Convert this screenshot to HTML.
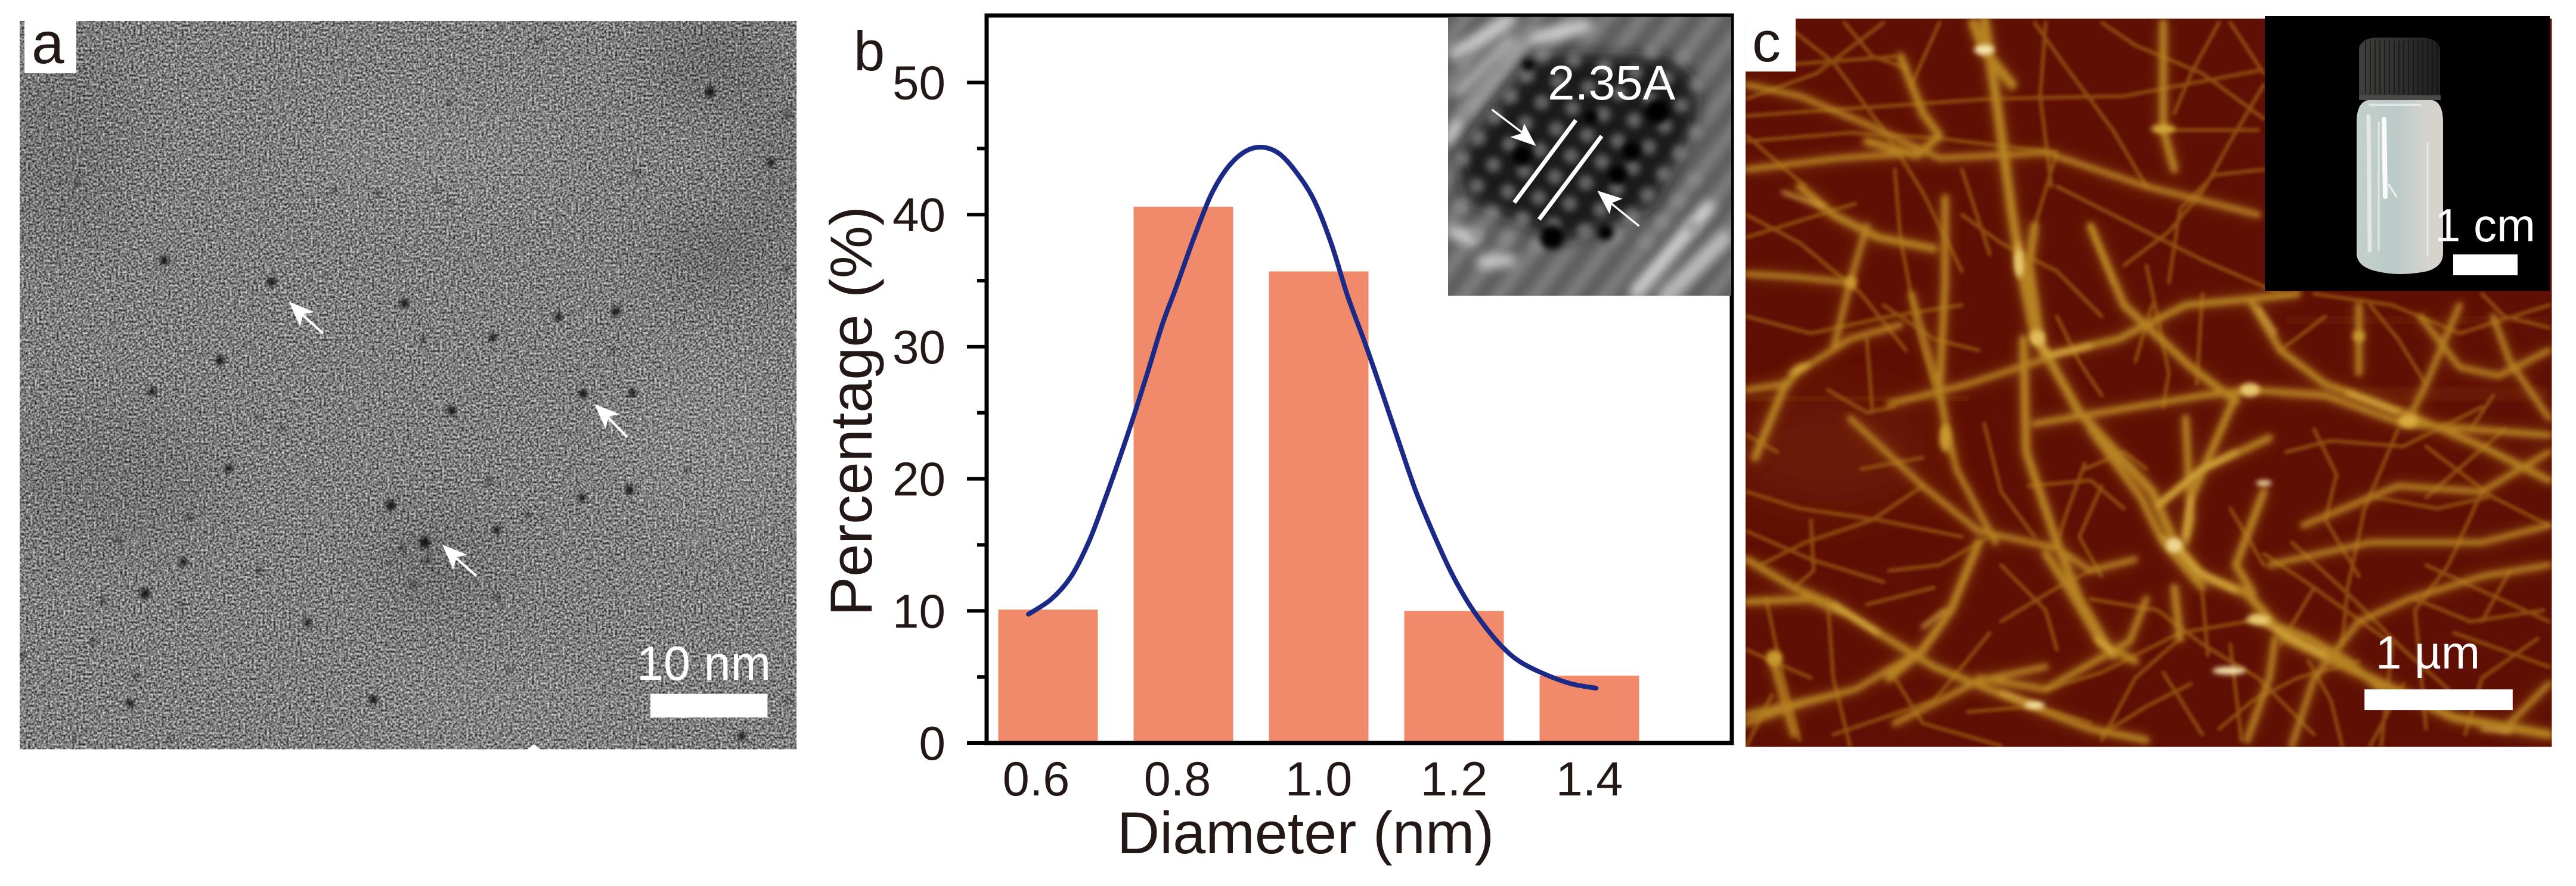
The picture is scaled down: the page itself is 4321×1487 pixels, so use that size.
<!DOCTYPE html>
<html lang="en">
<head>
<meta charset="utf-8">
<title>Nanoparticle and nanofibre characterisation figure</title>
<style>
  html, body { margin: 0; padding: 0; background: #ffffff; }
  body { width: 4321px; height: 1487px; overflow: hidden; }
  svg { display: block; }
  text { font-family: "Liberation Sans", Arial, sans-serif; }
</style>
</head>
<body>
<svg id="figure" xmlns="http://www.w3.org/2000/svg" width="4321" height="1487" viewBox="0 0 4321 1487">
  <defs>
    <filter id="temNoise" x="0" y="0" width="100%" height="100%" color-interpolation-filters="sRGB">
      <feTurbulence type="fractalNoise" baseFrequency="0.25" numOctaves="2" seed="11" result="n"/>
      <feColorMatrix in="n" type="matrix" values="1.15 0 0 0 -0.08  1.15 0 0 0 -0.08  1.15 0 0 0 -0.08  0 0 0 0 1"/>
    </filter>
    <filter id="blur60" x="-100%" y="-100%" width="300%" height="300%"><feGaussianBlur stdDeviation="55"/></filter>
    <filter id="blur3" x="-50%" y="-50%" width="200%" height="200%"><feGaussianBlur stdDeviation="3.4"/></filter>
    <filter id="blurHaze" x="-10%" y="-10%" width="120%" height="120%"><feGaussianBlur stdDeviation="12"/></filter>
    <filter id="blurFib" x="-5%" y="-5%" width="110%" height="110%"><feGaussianBlur stdDeviation="5"/></filter>
    <filter id="blurFibS" x="-5%" y="-5%" width="110%" height="110%"><feGaussianBlur stdDeviation="3.2"/></filter>
    <filter id="blurSpot" x="-60%" y="-60%" width="220%" height="220%"><feGaussianBlur stdDeviation="4.5"/></filter>
    <filter id="blurInset" x="-20%" y="-20%" width="140%" height="140%"><feGaussianBlur stdDeviation="40"/></filter>
    <filter id="blurStripes" x="-20%" y="-20%" width="140%" height="140%"><feGaussianBlur stdDeviation="27"/></filter>
    <filter id="blurDots" x="-5%" y="-5%" width="110%" height="110%"><feGaussianBlur stdDeviation="17"/></filter>
    <clipPath id="clipA"><rect x="36" y="37" width="1419" height="1289"/></clipPath>
    <clipPath id="clipC"><rect x="83" y="33" width="1442" height="1289"/></clipPath>
    <clipPath id="clipInset"><rect x="207" y="85" width="1425" height="1405"/></clipPath>
    <linearGradient id="bodyGrad" x1="0" x2="1" y1="0" y2="0">
      <stop offset="0" stop-color="#c3cfca"/><stop offset="0.45" stop-color="#bccac8"/><stop offset="0.8" stop-color="#d3d3cd"/><stop offset="1" stop-color="#d8d2cc"/>
    </linearGradient>
    <linearGradient id="capGrad" x1="0" x2="1" y1="0" y2="0">
      <stop offset="0" stop-color="#3f3f3c"/><stop offset="0.6" stop-color="#2c2c2c"/><stop offset="1" stop-color="#1f1f1f"/>
    </linearGradient>
  </defs>

  <rect width="4321" height="1487" fill="#ffffff"/>

  <!-- PANEL A: TEM micrograph -->
  <g transform="scale(0.9183 0.9483)">
    <g clip-path="url(#clipA)">
      <rect x="36" y="37" width="1419" height="1289" fill="#858585"/>
      <rect x="36" y="37" width="1419" height="1289" filter="url(#temNoise)"/>
      <g>
        <ellipse cx="1300" cy="110" rx="120" ry="70" fill="#000" opacity=".16" filter="url(#blur60)"/>
        <ellipse cx="1300" cy="450" rx="100" ry="50" fill="#000" opacity=".2" filter="url(#blur60)"/>
        <ellipse cx="800" cy="1000" rx="110" ry="80" fill="#000" opacity=".12" filter="url(#blur60)"/>
        <ellipse cx="1430" cy="300" rx="50" ry="150" fill="#000" opacity=".14" filter="url(#blur60)"/>
        <ellipse cx="200" cy="850" rx="200" ry="120" fill="#000" opacity=".08" filter="url(#blur60)"/>
        <ellipse cx="120" cy="250" rx="120" ry="200" fill="#000" opacity=".08" filter="url(#blur60)"/>
        <ellipse cx="800" cy="270" rx="260" ry="90" fill="#fff" opacity=".05" filter="url(#blur60)"/>
        <ellipse cx="1300" cy="780" rx="170" ry="150" fill="#fff" opacity=".05" filter="url(#blur60)"/>
        <ellipse cx="900" cy="1250" rx="260" ry="60" fill="#fff" opacity=".05" filter="url(#blur60)"/>
      </g>
      <g id="temDots" fill="#0c0c0c" filter="url(#blur3)"></g>
      <polygon points="962,1327 975,1317 988,1327" fill="#ffffff"/>
      <g fill="#fff" stroke="none">
        <line x1="590" y1="590" x2="550" y2="555" stroke="#fff" stroke-width="4.5"/>
        <polygon points="528,534 574,552 554,556 548,578"/>
      </g>
      <g fill="#fff" stroke="none">
        <line x1="1146" y1="774" x2="1108" y2="736" stroke="#fff" stroke-width="4.5"/>
        <polygon points="1086,715 1132,733 1112,737 1106,759"/>
      </g>
      <g fill="#fff" stroke="none">
        <line x1="870" y1="1019" x2="830" y2="985" stroke="#fff" stroke-width="4.5"/>
        <polygon points="808,964 854,982 834,986 828,1008"/>
      </g>
      <rect x="1188" y="1228" width="214" height="42" fill="#ffffff"/>
    </g>
  </g>
  <rect x="41" y="35" width="87" height="88" fill="#ffffff"/>
  <text x="53" y="106" font-size="98" fill="#231815">a</text>
  <text x="1068" y="1141" font-size="81" fill="#ffffff">10 nm</text>

  <!-- PANEL B: histogram -->
  <text x="1432" y="118" font-size="94" fill="#231815">b</text>
  <g id="chartB"></g>

  <!-- Panel B inset: HRTEM -->
  <g transform="translate(2360 0) scale(0.33333)">
    <g clip-path="url(#clipInset)">
      <rect x="207" y="85" width="1425" height="1405" fill="#5c5c5c"/>
      <g id="hrtemStripes" filter="url(#blurStripes)" stroke="#b8b8b8" stroke-width="62" opacity=".42"></g>
      <g filter="url(#blurStripes)" stroke="#dcdcdc" fill="none" stroke-linecap="round" opacity=".9">
        <line x1="240" y1="270" x2="520" y2="100" stroke-width="65"/>
        <line x1="260" y1="460" x2="520" y2="200" stroke-width="55" stroke="#bcbcbc"/>
        <line x1="310" y1="570" x2="600" y2="220" stroke-width="50" stroke="#b4b4b4"/>
        <line x1="650" y1="190" x2="900" y2="130" stroke-width="70"/>
        <line x1="210" y1="710" x2="260" y2="620" stroke-width="45" stroke="#eee"/>
        <line x1="240" y1="1170" x2="330" y2="1200" stroke-width="70"/>
        <line x1="380" y1="1320" x2="520" y2="1310" stroke-width="60"/>
        <line x1="1150" y1="1470" x2="1520" y2="1040" stroke-width="60" stroke="#e6e6e6"/>
        <line x1="1300" y1="1490" x2="1600" y2="1200" stroke-width="80" stroke="#c5c5c5"/>
      </g>
      <g filter="url(#blurInset)" opacity=".92">
        <polygon points="430,550 630,300 820,270 1330,290 1460,420 1450,640 1240,1040 800,1220 620,1140 300,1010 260,780" fill="#141414"/>
      </g>
      <g id="latticeDots" filter="url(#blurDots)"></g>
      <g filter="url(#blurDots)" fill="#000">
        <circle cx="580" cy="785" r="48"/><circle cx="610" cy="325" r="30"/><circle cx="925" cy="590" r="32"/><circle cx="730" cy="1195" r="60"/><circle cx="1260" cy="560" r="60"/><circle cx="1060" cy="880" r="45"/><circle cx="1130" cy="760" r="45"/><circle cx="1000" cy="1170" r="40"/>
      </g>
      <g stroke="#ffffff" stroke-width="21">
        <line x1="850" y1="605" x2="540" y2="1020"/>
        <line x1="980" y1="685" x2="665" y2="1105"/>
      </g>
      <g fill="#fff">
        <line x1="428" y1="552" x2="590" y2="675" stroke="#fff" stroke-width="10"/>
        <polygon points="650,735 590,622 575,672 520,690"/>
      </g>
      <g fill="#fff">
        <line x1="1168" y1="1138" x2="1020" y2="1018" stroke="#fff" stroke-width="10"/>
        <polygon points="958,960 1085,1000 1032,1022 1020,1078"/>
      </g>
    </g>
  </g>
  <text x="2596" y="167" font-size="82" fill="#ffffff">2.35A</text>

  <!-- PANEL C: AFM image -->
  <g transform="translate(2850 0) scale(0.938 0.9483)">
    <g clip-path="url(#clipC)">
      <rect x="83" y="33" width="1442" height="1289" fill="#5f0f04"/>
      <g fill="#7a2a08">
        <ellipse cx="230" cy="800" rx="190" ry="90" opacity=".5" filter="url(#blur60)"/>
        <rect x="1040" y="685" width="480" height="24" opacity=".4" filter="url(#blur3)"/>
        <rect x="83" y="700" width="400" height="10" opacity=".4"/>
        <rect x="1050" y="560" width="470" height="14" opacity=".25"/>
      </g>
      <use href="#afmMain" filter="url(#blurHaze)" opacity=".6"/>
      <g id="afmFine" filter="url(#blurFibS)" fill="none" stroke="#a06418" stroke-width="6.5" stroke-linecap="round" stroke-linejoin="round" opacity=".75">
        <path d="M85 205 L300 190 L520 175 L760 170 L1000 125"/>
        <path d="M85 250 L270 235 L430 245 L640 270"/>
        <path d="M150 40 L240 110 L330 230 L400 340 L470 480"/>
        <path d="M260 40 L310 100 L370 120"/>
        <path d="M600 40 L650 110 L740 230 L800 330"/>
        <path d="M720 40 L780 80 L900 130 L1010 210"/>
        <path d="M930 40 L880 130 L850 200"/>
        <path d="M1010 150 L950 250 L900 340 L840 410 L760 470"/>
        <path d="M640 330 L760 390 L900 460 L1040 520"/>
        <path d="M85 380 L180 430 L290 520 L370 620"/>
        <path d="M350 300 L360 420 L390 580 L420 680"/>
        <path d="M85 560 L200 590 L340 560 L470 540"/>
        <path d="M300 600 L310 730"/>
        <path d="M470 380 L540 430 L640 480 L720 560"/>
        <path d="M640 560 L680 640 L720 700"/>
        <path d="M800 470 L820 560 L840 660 L830 720"/>
        <path d="M1100 520 L1240 540 L1360 590 L1520 540"/>
        <path d="M1200 540 L1250 600 L1300 680"/>
        <path d="M1400 520 L1440 560 L1520 580"/>
        <path d="M1040 620 L1120 560"/>
        <path d="M85 870 L180 900 L320 920 L470 950"/>
        <path d="M85 940 L200 990 L330 1030"/>
        <path d="M200 920 L205 1010 L170 1040"/>
        <path d="M340 1010 L430 1000 L520 950"/>
        <path d="M230 1060 L240 1200 L270 1320"/>
        <path d="M120 1060 L150 1200 L180 1310"/>
        <path d="M300 1070 L420 1040"/>
        <path d="M400 860 L310 920 L190 960 L110 1000"/>
        <path d="M690 820 L660 900 L640 960"/>
        <path d="M690 830 L760 800 L800 830"/>
        <path d="M1100 760 L1140 840 L1120 920 L1180 1020"/>
        <path d="M1250 760 L1190 900 L1160 1040 L1150 1140"/>
        <path d="M1400 870 L1340 1000 L1280 1080 L1290 1180 L1300 1290"/>
        <path d="M1510 1080 L1380 1100 L1280 1060"/>
        <path d="M1500 1130 L1400 1200 L1370 1300"/>
        <path d="M1060 960 L1170 1060 L1260 1150 L1340 1220"/>
        <path d="M1300 790 L1420 880 L1520 930"/>
        <path d="M1210 880 L1320 900 L1410 880"/>
        <path d="M700 1060 L820 1080 L900 1140 L1000 1200 L1100 1300"/>
        <path d="M860 1130 L780 1200 L720 1310"/>
        <path d="M880 1210 L800 1250 L720 1300"/>
        <path d="M350 1200 L400 1280 L540 1320"/>
        <path d="M480 1260 L600 1250 L700 1280"/>
        <path d="M620 1220 L720 1190 L860 1120 L980 1100"/>
        <path d="M540 1100 L640 1040 L700 1010"/>
        <path d="M1010 980 L1100 1040 L1040 1140"/>
        <path d="M590 860 L700 850 L760 900"/>
        <path d="M1450 1010 L1400 1100"/>
        <path d="M930 1290 L990 1240 L1070 1200 L1180 1170"/>
        <path d="M1150 1320 L1130 1240 L1090 1170"/>
        <path d="M85 120 L350 100"/>
        <path d="M85 175 L210 130 L330 40"/>
        <path d="M430 40 L380 150"/>
        <path d="M620 40 L610 170 L630 330"/>
        <path d="M950 40 L1010 130"/>
        <path d="M1000 230 L900 230 L820 230"/>
        <path d="M1010 300 L920 310 L860 370 L840 500"/>
        <path d="M640 270 L600 400"/>
        <path d="M700 400 L740 500"/>
        <path d="M85 240 L190 330"/>
        <path d="M85 420 L280 360"/>
        <path d="M470 300 L520 450"/>
        <path d="M330 540 L420 600 L500 620"/>
        <path d="M230 690 L300 730 L350 720"/>
        <path d="M85 770 L140 800"/>
        <path d="M290 830 L400 810"/>
        <path d="M510 750 L540 870 L600 950"/>
        <path d="M720 860 L680 950 L720 1020"/>
        <path d="M900 520 L890 680"/>
        <path d="M810 540 L780 640"/>
        <path d="M1130 780 L1260 790 L1400 720"/>
        <path d="M1050 800 L1130 780"/>
        <path d="M1010 1000 L950 900"/>
        <path d="M1300 1000 L1520 1100"/>
        <path d="M1100 1040 L1240 1140 L1220 1320"/>
        <path d="M1350 1120 L1520 1180"/>
        <path d="M1300 880 L1440 760"/>
        <path d="M1380 760 L1420 700"/>
        <path d="M830 1190 L900 1300"/>
        <path d="M540 1000 L620 1080 L640 1150"/>
        <path d="M420 1240 L520 1120"/>
        <path d="M85 1150 L200 1200"/>
        <path d="M85 1320 L130 1230"/>
        <path d="M240 1300 L420 1240"/>
        <path d="M1260 1210 L1200 1320"/>
        <path d="M900 1050 L910 1160"/>
        <path d="M950 1140 L970 1310"/>
      </g>
      <g id="afmMain" filter="url(#blurFib)" fill="none" stroke="#b68224" stroke-width="10" stroke-linecap="round" stroke-linejoin="round">
        <path d="M510 35 L535 200 L560 380 L575 470 L600 590 L620 630" stroke-width="16"/>
        <path d="M490 40 L510 90 L560 150" stroke-width="16"/>
        <path d="M360 100 L400 200 L430 240 L390 275 L300 250" stroke-width="13"/>
        <path d="M85 150 L180 170 L300 220 L430 280 L620 270 L800 330 L1000 380"/>
        <path d="M830 40 L830 230 L850 300" stroke-width="13"/>
        <path d="M85 485 L170 490 L270 500"/>
        <path d="M180 330 L240 380 L320 420 L420 440" stroke-width="13"/>
        <path d="M85 690 L150 680 L190 650 L270 600 L360 575"/>
        <path d="M100 810 L150 690 L180 650" stroke-width="13"/>
        <path d="M620 630 L750 600 L870 540 L980 530 L1070 520" stroke-width="12"/>
        <path d="M340 715 L480 680 L620 635"/>
        <path d="M600 590 L680 730 L810 870 L850 960 L900 1020 L980 1050 L1050 1130 L1200 1200 L1350 1270 L1520 1300" stroke-width="15"/>
        <path d="M700 400 L760 540 L880 650 L960 710" stroke-width="13"/>
        <path d="M985 530 L1040 620 L1120 680 L1260 730 L1400 790 L1520 850" stroke-width="12"/>
        <path d="M580 600 L585 800 L640 960 L680 1060 L740 1160" stroke-width="14"/>
        <path d="M85 990 L170 1040 L240 1070 L320 1120 L420 1180 L580 1245 L700 1290 L800 1310" stroke-width="12"/>
        <path d="M85 1065 L200 1060 L260 1085" stroke-width="12"/>
        <path d="M500 960 L450 1080 L400 1150 L340 1200" stroke-width="14"/>
        <path d="M270 740 L400 860 L500 940 L640 970 L700 1010 L780 990"/>
        <path d="M820 895 L900 830 L1020 775" stroke-width="12"/>
        <path d="M600 750 L750 725 L900 700 L985 690" stroke-width="11"/>
        <path d="M985 690 L1120 700 L1260 750 L1520 770" stroke-width="11"/>
        <path d="M1265 750 L1300 680 L1330 610 L1360 540"/>
        <path d="M1420 560 L1450 640 L1520 740"/>
        <path d="M1520 620 L1430 665 L1360 650 L1290 560"/>
        <path d="M1020 1000 L1200 960 L1400 960 L1520 930"/>
        <path d="M1080 930 L1250 860 L1400 870 L1520 800"/>
        <path d="M1520 1210 L1440 1290"/>
        <path d="M1000 1095 L1090 1130 L1160 1170 L1220 1220" stroke-width="13"/>
        <path d="M870 740 L880 920 L870 960" stroke-width="12"/>
        <path d="M960 700 L920 790 L880 880 L870 950" stroke-width="13"/>
        <path d="M130 1160 L170 1300" stroke-width="12"/>
        <path d="M280 1220 L170 1250 L85 1280"/>
        <path d="M500 1200 L620 1220 L770 1135 L800 1060" stroke-width="11"/>
        <path d="M620 980 L660 1040 L720 1140 L780 1170" stroke-width="13"/>
        <path d="M850 1040 L860 1130" stroke-width="13"/>
        <path d="M85 300 L250 280 L400 270"/>
        <path d="M380 520 L430 700 L460 830 L530 960"/>
        <path d="M300 400 L270 500 L240 620"/>
        <path d="M440 350 L440 500 L430 690 L450 800" stroke-width="12"/>
        <path d="M1010 870 L960 1000 L990 1050" stroke-width="13"/>
        <path d="M1180 540 L1180 660" stroke-width="11"/>
        <path d="M1060 1320 L1100 1200 L1180 1100 L1270 1060 L1400 1020 L1520 1000"/>
        <path d="M980 1310 L1020 1200 L1030 1130" stroke-width="11"/>
        <path d="M700 760 L790 880 L830 960 L900 1040" stroke-width="12"/>
        <path d="M600 400 L590 470 L610 600" stroke-width="14"/>
        <path d="M85 1265 L280 1220 L400 1150"/>
        <path d="M350 1280 L500 1205 L620 1180"/>
      </g>
      <g filter="url(#blurFib)" fill="none" stroke="#e0b548" stroke-width="6" stroke-linecap="round" stroke-linejoin="round">
        <path d="M570 430 L575 490"/>
        <path d="M600 590 L625 630 L700 612"/>
        <path d="M820 895 L900 830 L960 800"/>
        <path d="M830 950 L860 975 L890 1010 L960 1045"/>
        <path d="M990 1090 L1060 1130 L1120 1160"/>
        <path d="M240 1070 L320 1120"/>
        <path d="M540 1225 L610 1250"/>
        <path d="M150 340 L220 365"/>
        <path d="M1160 695 L1250 730"/>
        <path d="M165 660 L195 645"/>
        <path d="M1000 545 L1030 590"/>
        <path d="M880 880 L870 950"/>
        <path d="M1400 1290 L1450 1295"/>
        <path d="M400 1110 L440 1080"/>
        <path d="M710 1130 L740 1155"/>
      </g>
      <g filter="url(#blurSpot)" fill="#f5e4ad">
        <ellipse cx="510" cy="88" rx="18" ry="9"/>
        <ellipse cx="985" cy="690" rx="18" ry="12" fill="#e7c870"/>
        <ellipse cx="850" cy="965" rx="15" ry="13" fill="#ecd68f"/>
        <ellipse cx="600" cy="1248" rx="18" ry="6"/>
        <ellipse cx="572" cy="465" rx="8" ry="24" fill="#e7c870"/>
        <ellipse cx="1268" cy="745" rx="18" ry="12" fill="#d9ab3f"/>
        <ellipse cx="948" cy="1187" rx="30" ry="7"/>
        <ellipse cx="1010" cy="855" rx="14" ry="5"/>
        <ellipse cx="1180" cy="595" rx="11" ry="10" fill="#c99a2e"/>
        <ellipse cx="830" cy="228" rx="22" ry="8" fill="#d2a43a"/>
        <ellipse cx="1000" cy="1097" rx="22" ry="9" fill="#e7c870"/>
        <ellipse cx="605" cy="598" rx="14" ry="14" fill="#e0bb5c"/>
        <ellipse cx="272" cy="500" rx="10" ry="12" fill="#c99a2e"/>
        <ellipse cx="135" cy="1165" rx="14" ry="14" fill="#c99a2e"/>
        <ellipse cx="440" cy="775" rx="10" ry="24" fill="#c99a2e"/>
      </g>
      <rect x="1190" y="1220" width="265" height="37" fill="#ffffff"/>
    </g>
  </g>
  <rect x="2928" y="31" width="84" height="89" fill="#ffffff"/>
  <text x="2939" y="103" font-size="96" fill="#231815">c</text>
  <text x="3985" y="1122" font-size="78" fill="#ffffff">1 µm</text>

  <!-- Panel C inset: vial photo -->
  <g>
    <rect x="3799" y="27" width="478" height="461" fill="#000000"/>
    <g>
      <path d="M3972 168 L4080 168 Q4098 172 4098 205 L4098 425 Q4098 447 4072 455 Q4026 465 3985 455 Q3953 447 3953 425 L3953 205 Q3953 172 3972 168 Z" fill="url(#bodyGrad)"/>
      <g fill="none" stroke="#ffffff" stroke-linecap="round">
        <path d="M3973 195 L3975 420" stroke-width="7" opacity=".55"/>
        <path d="M3999 200 L4001 330" stroke-width="8" opacity=".9"/>
        <path d="M3990 205 L3990 420" stroke-width="3" opacity=".5"/>
        <path d="M4007 310 L4020 330" stroke-width="3" opacity=".7"/>
        <path d="M4072 240 L4072 430" stroke-width="3" opacity=".45"/>
        <path d="M3975 176 L4060 176" stroke-width="4" opacity=".5"/>
      </g>
      <path d="M3957 160 L4094 160 L4094 168 L3957 168 Z" fill="#4a4a48"/>
      <path d="M3957 80 Q3962 63 3990 63 L4065 63 Q4090 66 4093 82 L4093 160 L3957 160 Z" fill="url(#capGrad)"/>
      <g id="capRidges" stroke="#111" stroke-width="2" opacity=".65"></g>
    </g>
    <rect x="4115" y="427" width="108" height="35" fill="#ffffff"/>
    <text x="4084" y="405" font-size="78" fill="#ffffff">1 cm</text>
  </g>
</svg>

<script>
// ---- Histogram data (panel b) ----
const categories = [0.6, 0.8, 1.0, 1.2, 1.4];
const percentages = [10.1, 40.6, 35.7, 10.0, 5.1];
const yMajorTicks = [0, 10, 20, 30, 40, 50];
const yMinorTicks = [5, 15, 25, 35, 45];
const xTickLabels = ['0.6', '0.8', '1.0', '1.2', '1.4'];
const fitDiameters = [0.571, 0.605, 0.634, 0.660, 0.681, 0.706, 0.727, 0.748, 0.769, 0.790, 0.816, 0.841, 0.866, 0.892, 0.917, 0.942, 0.967, 0.993, 1.018, 1.043, 1.069, 1.094, 1.119, 1.144, 1.170, 1.195, 1.220, 1.246, 1.271, 1.296, 1.330, 1.372, 1.410];
const fitPercentages = [9.75, 10.9, 12.6, 15.2, 18.0, 21.6, 24.8, 28.2, 31.7, 34.6, 38.3, 41.5, 43.6, 44.8, 45.1, 44.6, 43.2, 41.1, 37.9, 33.8, 30.2, 26.5, 22.7, 19.0, 15.8, 13.0, 10.7, 8.8, 7.3, 6.2, 5.3, 4.5, 4.15];

const NS = 'http://www.w3.org/2000/svg';
const plotLeft = 1655, plotRight = 2905, plotTop = 26, plotBottom = 1247;
const barWidth = 167;
function xScale(d) { return 1758 + (d - 0.6) * 1135; }
function yScale(p) { return plotBottom - p * 22.17; }

const chart = document.getElementById('chartB');

function make(tag, attrs, parent) {
  const el = document.createElementNS(NS, tag);
  for (const k in attrs) el.setAttribute(k, attrs[k]);
  parent.appendChild(el);
  return el;
}

// bars
categories.forEach(function (c, i) {
  const top = yScale(percentages[i]);
  const bar = make('rect', { x: xScale(c) - barWidth / 2, y: top, width: barWidth, height: plotBottom - top, fill: '#f18a6b' }, chart);
  
  
});

// fit curve (Catmull-Rom through the read points)
const pts = fitDiameters.map(function (d, i) { return [xScale(d), yScale(fitPercentages[i])]; });
let dPath = 'M' + pts[0][0] + ' ' + pts[0][1];
for (let i = 0; i < pts.length - 1; i++) {
  const p0 = pts[Math.max(0, i - 1)], p1 = pts[i], p2 = pts[i + 1], p3 = pts[Math.min(pts.length - 1, i + 2)];
  dPath += ' C' + (p1[0] + (p2[0] - p0[0]) / 6).toFixed(1) + ' ' + (p1[1] + (p2[1] - p0[1]) / 6).toFixed(1) + ' ' +
    (p2[0] - (p3[0] - p1[0]) / 6).toFixed(1) + ' ' + (p2[1] - (p3[1] - p1[1]) / 6).toFixed(1) + ' ' +
    p2[0].toFixed(1) + ' ' + p2[1].toFixed(1);
}
const fit = make('path', { d: dPath, fill: 'none', stroke: '#1b2a86', 'stroke-width': 8, 'stroke-linecap': 'round' }, chart);



// axes frame
const frame = make('rect', { x: plotLeft, y: plotTop, width: plotRight - plotLeft, height: plotBottom - plotTop, fill: 'none', stroke: '#000000', 'stroke-width': 7 }, chart);



// y ticks
yMajorTicks.forEach(function (v) {
  const t = make('line', { x1: 1622, x2: plotLeft, y1: yScale(v), y2: yScale(v), stroke: '#000', 'stroke-width': 6 }, chart);
  
  
  const lab = make('text', { x: 1586, y: yScale(v) + 28, 'text-anchor': 'end', 'font-size': 80, fill: '#231815' }, chart);
  lab.textContent = String(v);
  
  
});
yMinorTicks.forEach(function (v) {
  const t = make('line', { x1: 1639, x2: plotLeft, y1: yScale(v), y2: yScale(v), stroke: '#000', 'stroke-width': 6 }, chart);
  
  
});

// x labels
categories.forEach(function (c, i) {
  const lab = make('text', { x: xScale(c) - (i === 0 ? 20 : i === 1 ? 10 : 0), y: 1335, 'text-anchor': 'middle', 'font-size': 81, fill: '#231815' }, chart);
  lab.textContent = xTickLabels[i];
  
  
});

// axis titles
const xTitle = make('text', { x: 2190, y: 1432, 'text-anchor': 'middle', 'font-size': 99, fill: '#231815' }, chart);
xTitle.textContent = 'Diameter (nm)';



const yTitle = make('text', { transform: 'translate(1462 690) rotate(-90)', 'text-anchor': 'middle', 'font-size': 99, fill: '#231815' }, chart);
yTitle.textContent = 'Percentage (%)';



// ---- TEM nanoparticle dots (panel a), positions ----
const temParticles = [[1297,163,9],[1408,288,7],[1438,202,6],[1437,476,6],[690,342,6],[797,335,5],[300,461,8],[496,499,8],[739,537,8],[1020,561,7],[1125,551,8],[773,600,6],[900,597,7],[278,693,7],[402,638,8],[1065,697,8],[1155,696,7],[515,758,5],[825,727,8],[418,829,7],[893,852,6],[1063,881,7],[1150,867,8],[714,895,9],[345,915,6],[964,912,6],[907,938,7],[776,960,10],[733,970,6],[780,992,6],[335,995,7],[473,1010,6],[265,1051,9],[330,1070,5],[562,1102,7],[908,1056,6],[215,957,6],[248,1197,6],[238,1245,7],[682,1238,8],[1355,1303,7],[40,1160,6],[188,1063,6],[140,325,5],[1278,315,4],[1160,305,5],[985,72,5],[820,358,5],[610,338,5],[470,740,5],[755,1035,6],[710,997,4],[1120,620,5],[990,918,4],[170,1135,6],[310,1308,4],[138,1305,4],[930,1185,5],[1440,1240,5],[820,182,5],[1255,830,5]];
const temGroup = document.getElementById('temDots');
temParticles.forEach(function (p, i) {
  const c = make('circle', { cx: p[0], cy: p[1], r: p[2], opacity: p[2] >= 7 ? 0.9 : 0.55 }, temGroup);
  
  
});

// ---- HRTEM fringes and lattice spots ----
const stripeGroup = document.getElementById('hrtemStripes');
for (let k = -10; k <= 10; k++) {
  const x0 = 900 + k * 155, y0 = 920 + k * 30;
  const s = make('line', { x1: x0 - 81 * 14, y1: y0 + 105 * 14, x2: x0 + 81 * 14, y2: y0 - 105 * 14 }, stripeGroup);
  
  
}
const latticeGroup = document.getElementById('latticeDots');
for (let i = -8; i <= 8; i++) {
  for (let j = -8; j <= 8; j++) {
    const x = 900 + i * 155 + j * 81;
    const y = 920 + i * 30 - j * 105;
    if (x < 260 || x > 1490 || y < 250 || y > 1240) continue;
    const dot = make('circle', { cx: x, cy: y, r: 38, fill: '#8c8c8c', opacity: 0.62 }, latticeGroup);
    
    
  }
}

// ---- Vial cap ridges ----
const ridges = document.getElementById('capRidges');
for (let x = 3968; x < 4090; x += 8) {
  const r = make('line', { x1: x, x2: x, y1: 68, y2: 158 }, ridges);
  
  
}
</script>
</body>
</html>
